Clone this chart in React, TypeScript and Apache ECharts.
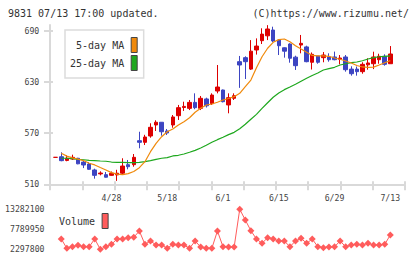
import React, { useEffect, useRef } from "react";
import * as echarts from "echarts";

// Trading days, 2020-04-14 .. 2020-07-13
const dates = [
  "4/14", "4/15", "4/16", "4/17", "4/20", "4/21", "4/22", "4/23", "4/24", "4/27",
  "4/28", "4/30", "5/1", "5/7", "5/8", "5/11", "5/12", "5/13", "5/14", "5/15",
  "5/18", "5/19", "5/20", "5/21", "5/22", "5/25", "5/26", "5/27", "5/28", "5/29",
  "6/1", "6/2", "6/3", "6/4", "6/5", "6/8", "6/9", "6/10", "6/11", "6/12",
  "6/15", "6/16", "6/17", "6/18", "6/19", "6/22", "6/23", "6/24", "6/25", "6/26",
  "6/29", "6/30", "7/1", "7/2", "7/3", "7/6", "7/7", "7/8", "7/9", "7/10",
  "7/13",
];

const opens = [
  541.6, 542.3, 538, 539.6, 540.5, 536, 533.8, 526.8, 522.2, 521.3,
  520.5, 521, 523, 533, 533, 561.1, 559.2, 566.6, 579.5, 582.7,
  572.5, 579.5, 590.4, 600, 599, 606, 599, 610, 604.5, 619.3,
  620.5, 603, 610.8, 653.7, 658.4, 645, 667.4, 678.3, 684, 690.8,
  679, 670, 674.4, 659, 673.2, 671, 653, 660.4, 658.4, 659.2,
  659.2, 656.5, 659.2, 645, 645, 642, 650, 651.3, 656, 660,
  651.3,
];
const closes = [
  541.6, 537.7, 540.5, 541.6, 534, 532.6, 527.6, 520.5, 523.2, 518.3,
  523, 523, 531.4, 530.6, 541.6, 559.2, 565.4, 576.8, 582.7, 571.6,
  570.1, 588.9, 599.8, 601.3, 606, 599.8, 610.8, 602, 614.6, 624,
  606.8, 611.5, 613.8, 649.8, 653.7, 666, 672, 686, 692, 678,
  672.4, 666, 657.7, 649, 675.2, 653.7, 662.3, 653, 661.5, 656,
  656, 658, 644.3, 639.6, 642, 650.6, 652.2, 659.2, 660, 650.6,
  662.7,
];
const lows = [
  541.6, 537, 537, 538.5, 533.5, 529, 527, 516.6, 520.5, 518,
  520, 514, 521, 527.6, 530.6, 552.2, 556, 564.6, 572.5, 567,
  567.8, 576.3, 585.4, 596, 597, 598, 597, 600, 603, 616.6,
  606, 593.2, 608.8, 623, 633.4, 644, 662, 674.4, 679, 676.4,
  661.5, 658.4, 652.5, 644, 663.5, 653, 644.5, 651.3, 653, 653.7,
  655.3, 650.6, 642, 637.3, 637.3, 639.6, 644.3, 645, 651.3, 649,
  651.3,
];
const highs = [
  541.6, 547.5, 544, 544.7, 541, 538.5, 536, 528.3, 525.2, 524.4,
  525, 527, 540.5, 538.5, 545.5, 571.6, 568, 581.5, 585, 583,
  574.8, 591.2, 603, 606.8, 608.8, 616.6, 613.5, 611.5, 616.6, 649.8,
  621, 616.6, 616.6, 660.4, 660, 679, 681, 692.8, 696.5, 694.7,
  680, 670.5, 675.2, 660.7, 685, 672.4, 664.5, 660.4, 665, 663.5,
  665.5, 661.5, 661.5, 648.3, 648, 653, 657.7, 665.4, 663, 662.3,
  672,
];

const ma5 = [
  null, 546.3, 543, 541, 539.5, 537.8, 534.7, 532.7, 529.7, 526.8,
  523.7, 522, 521.3, 522.5, 525, 529.5, 536.5, 548.2, 558, 565.8,
  571.6, 574.8, 579.5, 583.4, 588, 594.4, 599, 602.9, 604.1, 606.1,
  608.8, 610.5, 612.7, 616.6, 624.4, 632.2, 646.7, 659.5, 669.4, 676.4,
  679.5, 680.3, 677.1, 672.4, 668.5, 664.7, 661, 660.4, 660.4, 660,
  658, 656.5, 654.5, 652.2, 649.2, 647.5, 647, 647.3, 649.8, 652.5,
  655,
];
const ma25 = [
  null, 540.5, 540.5, 540, 539.3, 538.8, 538.1, 537.7, 537.3, 537,
  536.1, 535.8, 535.8, 535.3, 535.3, 535.8, 536.5, 537.7, 539.3, 540.5,
  541.2, 543.2, 544, 545.5, 547.5, 549.8, 552.5, 555.7, 559.2, 562.3,
  565.1, 568.2, 570.9, 575.2, 580.3, 586.2, 592, 599, 605.6, 612,
  617, 620.9, 624, 627.2, 630.7, 634.2, 637.5, 640.4, 643.9, 645.5,
  647.1, 649.8, 651.3, 652.5, 653.3, 654.8, 656.8, 658.4, 659.5, 660,
  660.4,
];

const volumes = [
  null, 5130000, 2570000, 3010000, 3390000, 3010000, 3010000, 5130000, 2297800, 3010000,
  3670000, 5130000, 5130000, 5480000, 5590000, 7320000, 3670000, 4580000, 3480000, 3480000,
  2570000, 3670000, 3480000, 3480000, 2570000, 4580000, 2930000, 2570000, 2570000, 7320000,
  3010000, 2930000, 2930000, 13282100, 10340000, 7410000, 5130000, 3950000, 5480000, 5130000,
  4580000, 4580000, 3010000, 4580000, 5300000, 3950000, 5130000, 3010000, 2740000, 2930000,
  3010000, 4580000, 3010000, 3480000, 3670000, 3480000, 3950000, 3480000, 3480000, 3670000,
  6220000,
];

const priceTicks = [510, 570, 630, 690];
const volumeTicks = [2297800, 7789950, 13282100];

const RED = "#dd0000";
const BLUE = "#3d45c2";
const ORANGE = "#f08a0c";
const GREEN = "#1ea81e";
const VOL = "#ff5c5c";
const AXIS = "#d9d9d9";
const MONO = "DejaVu Sans Mono";

export default function App() {
  const ref = useRef<HTMLDivElement>(null);

  useEffect(() => {
    if (!ref.current) return;
    const chart = echarts.init(ref.current, undefined, { renderer: "svg" });

    const candles = dates.map((_, i) => [opens[i], closes[i], lows[i], highs[i]]);
    const axisLineStyle = { color: AXIS, width: 2 };
    const smallText = { fontFamily: MONO, fontSize: 8.2, color: "#444" };
    const legendText = { fontFamily: MONO, fontSize: 10, color: "#333", padding: [0, 2, 0, 0] };

    chart.setOption({
      animation: false,
      backgroundColor: "#fff",
      title: [
        {
          text: "9831 07/13 17:00 updated.",
          left: 8,
          top: 8,
          padding: 0,
          textStyle: { fontFamily: MONO, fontSize: 10, fontWeight: "normal", color: "#333" },
        },
        {
          text: "(C)https://www.rizumu.net/",
          right: 11,
          top: 8,
          padding: 0,
          textStyle: { fontFamily: MONO, fontSize: 10, fontWeight: "normal", color: "#333" },
        },
      ],
      legend: [
        {
          data: ["5-day MA", "25-day MA"],
          orient: "vertical",
          align: "right",
          left: 65,
          top: 30,
          padding: [7, 6, 7, 5],
          itemWidth: 6,
          itemHeight: 15,
          itemGap: 2,
          icon: "rect",
          itemStyle: { borderColor: "#444", borderWidth: 1 },
          backgroundColor: "#fff",
          borderColor: "#dcdcdc",
          borderWidth: 1.5,
          textStyle: legendText,
          selectedMode: false,
        },
        {
          data: ["Volume"],
          orient: "vertical",
          align: "right",
          left: 59,
          top: 213,
          padding: 0,
          itemWidth: 6,
          itemHeight: 15,
          icon: "rect",
          itemStyle: { borderColor: "#444", borderWidth: 1 },
          textStyle: legendText,
          selectedMode: false,
        },
      ],
      grid: [
        { left: 50, top: 25, width: 355, height: 159.3 },
        { left: 55.7, top: 30.7, width: 334.6, height: 153.6 },
        { left: 55.7, top: 209.3, width: 334.6, height: 40 },
      ],
      xAxis: [
        {
          gridIndex: 0,
          type: "value",
          min: 0,
          max: 11,
          interval: 1,
          position: "bottom",
          axisLine: { show: true, onZero: false, lineStyle: axisLineStyle },
          axisTick: { show: true, length: 6, lineStyle: axisLineStyle },
          axisLabel: { show: false },
          splitLine: { show: false },
        },
        {
          gridIndex: 0,
          type: "value",
          min: 0,
          max: 11,
          interval: 1,
          position: "bottom",
          axisLine: { show: false, onZero: false },
          axisTick: { show: true, inside: true, length: 3, lineStyle: axisLineStyle },
          axisLabel: { show: false },
          splitLine: { show: false },
        },
        {
          gridIndex: 1,
          type: "category",
          data: dates,
          boundaryGap: false,
          axisLine: { show: false },
          axisTick: { show: false },
          axisLabel: {
            interval: (i: number) => i > 0 && i % 10 === 0,
            margin: 9.2,
            ...smallText,
          },
          splitLine: { show: false },
        },
        {
          gridIndex: 2,
          type: "category",
          data: dates,
          boundaryGap: false,
          show: false,
        },
      ],
      yAxis: [
        {
          gridIndex: 0,
          type: "value",
          min: 0,
          max: 1,
          position: "left",
          axisLine: { show: true, lineStyle: axisLineStyle },
          axisTick: { show: false },
          axisLabel: { show: false },
          splitLine: { show: false },
        },
        {
          gridIndex: 1,
          type: "value",
          min: 510,
          max: 690,
          position: "left",
          offset: 5.7,
          axisLine: { show: false },
          axisTick: { show: true, length: 6, lineStyle: axisLineStyle, customValues: priceTicks },
          axisLabel: { customValues: priceTicks, margin: 10.7, ...smallText },
          splitLine: { show: false },
        },
        {
          gridIndex: 1,
          type: "value",
          min: 510,
          max: 690,
          position: "left",
          offset: 5.7,
          axisLine: { show: false },
          axisTick: { show: true, inside: true, length: 3, lineStyle: axisLineStyle, customValues: priceTicks },
          axisLabel: { show: false },
          splitLine: { show: false },
        },
        {
          gridIndex: 2,
          type: "value",
          min: volumeTicks[0],
          max: volumeTicks[volumeTicks.length - 1],
          position: "left",
          offset: 5.7,
          axisLine: { show: false },
          axisTick: { show: false },
          axisLabel: {
            customValues: volumeTicks,
            margin: 5.5,
            formatter: (v: number) => String(Math.round(v)),
            ...smallText,
          },
          splitLine: { show: false },
        },
      ],
      series: [
        {
          name: "25-day MA",
          type: "line",
          xAxisIndex: 2,
          yAxisIndex: 1,
          data: ma25,
          showSymbol: false,
          symbol: "none",
          clip: false,
          color: GREEN,
          lineStyle: { color: GREEN, width: 1.2 },
          itemStyle: { color: GREEN },
        },
        {
          name: "5-day MA",
          type: "line",
          xAxisIndex: 2,
          yAxisIndex: 1,
          data: ma5,
          showSymbol: false,
          symbol: "none",
          clip: false,
          color: ORANGE,
          lineStyle: { color: ORANGE, width: 1.2 },
          itemStyle: { color: ORANGE },
        },
        {
          name: "Price",
          type: "candlestick",
          xAxisIndex: 2,
          yAxisIndex: 1,
          data: candles,
          barWidth: 4,
          clip: false,
          itemStyle: {
            color: RED,
            color0: BLUE,
            borderColor: RED,
            borderColor0: BLUE,
            borderColorDoji: RED,
            borderWidth: 1,
          },
        },
        {
          name: "Volume",
          type: "line",
          xAxisIndex: 3,
          yAxisIndex: 3,
          data: volumes,
          symbol: "diamond",
          symbolSize: 7,
          showSymbol: true,
          showAllSymbol: true,
          clip: false,
          color: VOL,
          lineStyle: { color: VOL, width: 1 },
          itemStyle: { color: VOL },
        },
      ],
    });

    return () => chart.dispose();
  }, []);

  return (
    <div
      ref={ref}
      style={{ position: "fixed", left: 0, top: 0, width: 420, height: 259, background: "#fff" }}
    />
  );
}
